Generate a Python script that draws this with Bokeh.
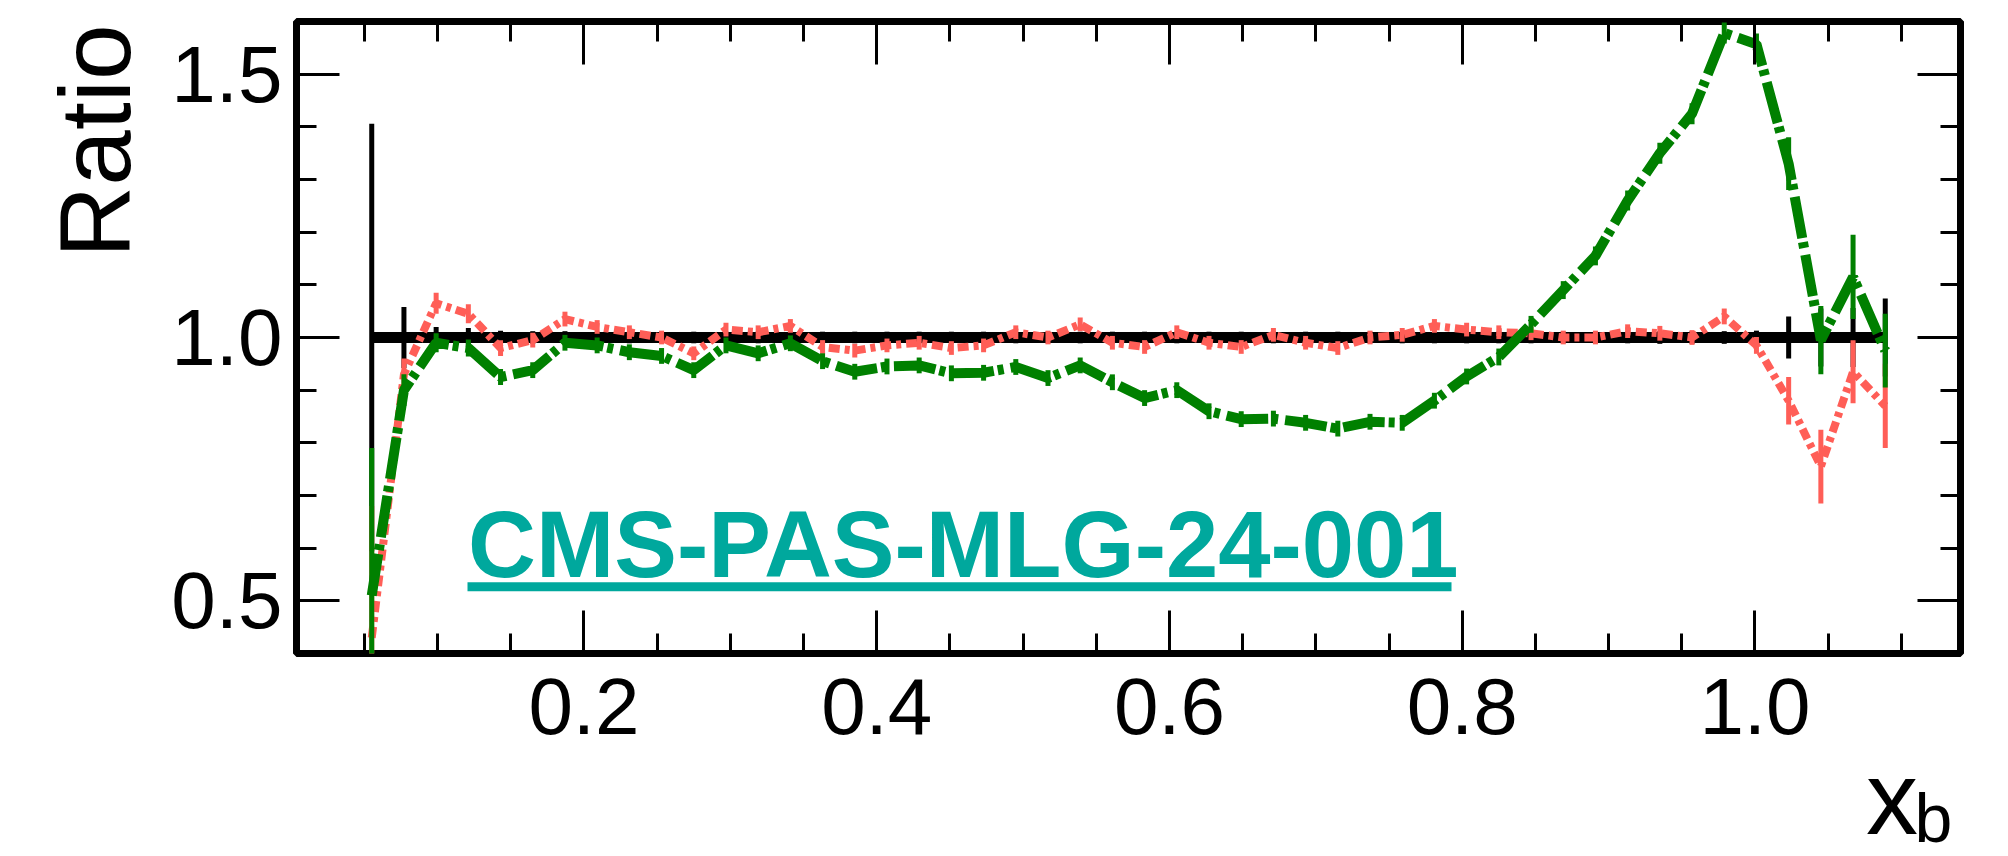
import math
from bokeh.plotting import figure
from bokeh.models import (Range1d, LinearAxis, SingleIntervalTicker, NumeralTickFormatter,
                          CustomJSTickFormatter, Label, Title, BoxAnnotation, ColumnDataSource)
from bokeh.embed import file_html
from bokeh.resources import INLINE

# ---------------- data ----------------
x_centers = [0.055, 0.077, 0.099, 0.121, 0.143, 0.165, 0.187, 0.209, 0.231, 0.253,
             0.275, 0.297, 0.319, 0.341, 0.363, 0.385, 0.407, 0.429, 0.451, 0.473,
             0.495, 0.517, 0.539, 0.561, 0.583, 0.605, 0.627, 0.649, 0.671, 0.693,
             0.715, 0.737, 0.759, 0.781, 0.803, 0.825, 0.847, 0.869, 0.891, 0.913,
             0.935, 0.957, 0.979, 1.001, 1.023, 1.045, 1.067, 1.089]

ref_ratio = [1.0] * len(x_centers)
ref_err = [0.406, 0.058, 0.02, 0.018, 0.013, 0.012, 0.012, 0.011, 0.011, 0.011,
           0.011, 0.011, 0.011, 0.011, 0.011, 0.011, 0.011, 0.011, 0.011, 0.011,
           0.011, 0.011, 0.011, 0.011, 0.011, 0.011, 0.011, 0.011, 0.011, 0.011,
           0.011, 0.011, 0.011, 0.011, 0.011, 0.011, 0.011, 0.011, 0.011, 0.011,
           0.012, 0.012, 0.012, 0.013, 0.04, 0.055, 0.056, 0.074]

red_ratio = [0.43, 0.93, 1.065, 1.045, 0.98, 0.995, 1.035, 1.02, 1.01, 1.0,
             0.97, 1.015, 1.01, 1.022, 0.982, 0.975, 0.985, 0.99, 0.98, 0.985,
             1.01, 1.0, 1.025, 0.99, 0.982, 1.01, 0.99, 0.982, 1.005, 0.99,
             0.98, 1.0, 1.005, 1.022, 1.015, 1.01, 1.008, 1.0, 1.0, 1.012,
             1.008, 1.0, 1.04, 0.985, 0.88, 0.755, 0.935, 0.87]
red_err = [0.25, 0.03, 0.02, 0.018, 0.015, 0.014, 0.014, 0.013, 0.013, 0.013,
           0.013, 0.013, 0.013, 0.013, 0.013, 0.013, 0.013, 0.013, 0.013, 0.013,
           0.013, 0.013, 0.013, 0.013, 0.013, 0.013, 0.013, 0.013, 0.013, 0.013,
           0.013, 0.013, 0.013, 0.013, 0.013, 0.013, 0.013, 0.013, 0.013, 0.013,
           0.014, 0.014, 0.015, 0.016, 0.045, 0.07, 0.06, 0.08]

green_ratio = [0.51, 0.90, 0.99, 0.98, 0.925, 0.938, 0.99, 0.985, 0.972, 0.965,
               0.938, 0.985, 0.97, 0.989, 0.955, 0.935, 0.945, 0.947, 0.932, 0.933,
               0.944, 0.923, 0.947, 0.915, 0.885, 0.90, 0.86, 0.845, 0.846, 0.838,
               0.827, 0.84, 0.838, 0.88, 0.926, 0.963, 1.025, 1.09, 1.155, 1.26,
               1.35, 1.425, 1.578, 1.557, 1.33, 0.995, 1.115, 0.975]
green_err = [0.28, 0.03, 0.018, 0.016, 0.015, 0.015, 0.015, 0.015, 0.015, 0.015,
             0.015, 0.015, 0.015, 0.015, 0.015, 0.015, 0.015, 0.015, 0.015, 0.015,
             0.015, 0.015, 0.015, 0.015, 0.015, 0.015, 0.015, 0.015, 0.015, 0.015,
             0.015, 0.015, 0.015, 0.015, 0.015, 0.016, 0.016, 0.017, 0.018, 0.019,
             0.02, 0.02, 0.02, 0.02, 0.05, 0.065, 0.08, 0.07]

x_major_step = 0.2
y_major_step = 0.5
tag_text = "CMS-PAS-MLG-24-001"
y_title = "Ratio"
x_title_main = "x"
x_title_sub = "b"

# ---------------- layout / style ----------------
W, H = 2008, 856
FL, FR, FT, FB = 296, 1960, 21, 653          # frame edges, page pixels
X0, X1 = 0.0036, 1.1404
Y0, Y1 = 0.4, 1.6
FONT = "Liberation Sans"
RED = "#ff5e57"
GREEN = "#008000"
TEAL = "#00a89d"


def dx(px):
    return X0 + (px - FL) * (X1 - X0) / (FR - FL)


def dy(py):
    return Y1 - (py - FT) * (Y1 - Y0) / (FB - FT)


p = figure(width=W, height=H, x_range=Range1d(X0, X1), y_range=Range1d(Y0, Y1),
           output_backend="svg", toolbar_location=None,
           x_axis_type=None, y_axis_type=None,
           min_border_left=FL, min_border_right=W - FR,
           min_border_top=FT, min_border_bottom=H - FB)
p.outline_line_color = "black"
p.outline_line_width = 7
p.background_fill_color = "white"
p.border_fill_color = "white"


def make_axis(ticker, show_labels):
    ax = LinearAxis(ticker=ticker)
    ax.axis_line_color = None
    ax.major_tick_in = 43
    ax.major_tick_out = 0
    ax.minor_tick_in = 20
    ax.minor_tick_out = 0
    ax.major_tick_line_width = 3
    ax.minor_tick_line_width = 3
    ax.major_tick_line_color = "black"
    ax.minor_tick_line_color = "black"
    if show_labels:
        ax.formatter = NumeralTickFormatter(format="0.0")
        ax.major_label_text_font = FONT
        ax.major_label_text_font_size = "80px"
        ax.major_label_text_color = "black"
    else:
        ax.formatter = CustomJSTickFormatter(code="return ''")
        ax.major_label_text_font_size = "1px"
        ax.major_label_standoff = 0
    return ax


xb = make_axis(SingleIntervalTicker(interval=x_major_step, num_minor_ticks=4), True)
xb.major_label_standoff = 25
yl = make_axis(SingleIntervalTicker(interval=y_major_step, num_minor_ticks=5), True)
yl.major_label_standoff = 14
p.add_layout(xb, "below")
p.add_layout(yl, "left")
p.add_layout(make_axis(SingleIntervalTicker(interval=x_major_step, num_minor_ticks=4), False), "above")
p.add_layout(make_axis(SingleIntervalTicker(interval=y_major_step, num_minor_ticks=5), False), "right")

for g in (p.xgrid, p.ygrid):
    g.grid_line_color = "#c2c2c2"
    g.grid_line_width = 2.5
    g.grid_line_dash = "3 4"

# ---------------- data marks ----------------
def err_source(xs, ys, es):
    return ColumnDataSource(dict(x=xs, lo=[a - b for a, b in zip(ys, es)],
                                 hi=[a + b for a, b in zip(ys, es)]))


p.segment(x0="x", y0="lo", x1="x", y1="hi", source=err_source(x_centers, ref_ratio, ref_err),
          line_color="black", line_width=5)
p.line(x_centers, ref_ratio, line_color="black", line_width=11)

p.segment(x0="x", y0="lo", x1="x", y1="hi", source=err_source(x_centers, red_ratio, red_err),
          line_color=RED, line_width=5)
p.line(x_centers, red_ratio, line_color=RED, line_width=8, line_dash="11 5 5 5")

p.segment(x0="x", y0="lo", x1="x", y1="hi", source=err_source(x_centers, green_ratio, green_err),
          line_color=GREEN, line_width=5)
p.line(x_centers, green_ratio, line_color=GREEN, line_width=10, line_dash="42 4 6 7")

# ---------------- texts ----------------
# y title: top-aligned, in the left side panel
t_ratio = Title(text=y_title, align="right", vertical_align="top",
                text_font=FONT, text_font_size="100px", text_font_style="normal",
                text_color="black", standoff=32, offset=3)
p.add_layout(t_ratio, "left")

# x title and its subscript: labels living in side panels (so they are not clipped)
p.add_layout(Label(x=dx(1865.5), y=dy(834 - 0.3465 * 104), text=x_title_main,
                   text_align="left", text_baseline="middle", text_font=FONT,
                   text_font_size="104px", text_color="black"), "below")
p.add_layout(Label(x=dx(1914), y=dy(841 - 0.3465 * 68), text=x_title_sub,
                   text_align="left", text_baseline="middle", text_font=FONT,
                   text_font_size="68px", text_color="black"), "right")

# analysis tag with underline
p.add_layout(Label(x=dx(467.5), y=dy(576.7 - 0.3465 * 94), text=tag_text, text_align="left",
                   text_baseline="middle", text_font=FONT,
                   text_font_style="bold", text_font_size="94px", text_color=TEAL))
p.add_layout(BoxAnnotation(left=dx(467), right=dx(1451), top=dy(581.7), bottom=dy(590.7),
                           fill_color=TEAL, fill_alpha=1.0, line_color=None))

open("out.html", "w").write(file_html(p, INLINE))
